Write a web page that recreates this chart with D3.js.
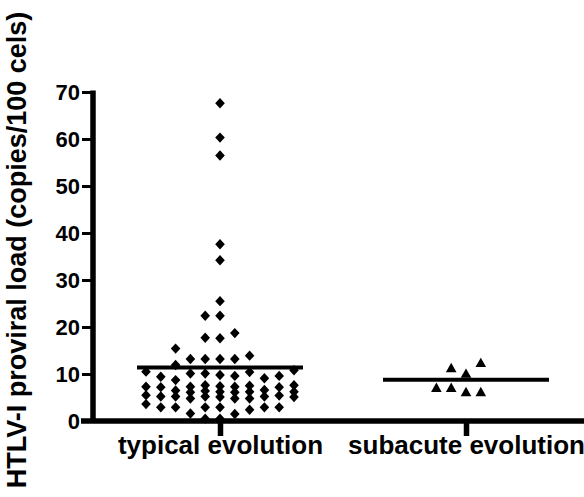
<!DOCTYPE html>
<html>
<head>
<meta charset="utf-8">
<script src="https://cdn.jsdelivr.net/npm/d3@7"></script>
<style>
  html, body { margin: 0; padding: 0; background: #fff; }
  svg { display: block; font-family: "Liberation Sans", Arial, sans-serif; }
</style>
</head>
<body>
<svg id="chart" width="584" height="497"></svg>
<script>
// ---- data ----
const categories = ["typical evolution", "subacute evolution"];
const typicalValues = [
  67.6, 60.3, 56.5, 37.6, 34.2, 25.5, 22.4, 22.4, 18.7, 17.6, 17.7, 15.4, 13.9,
  13.2, 13.2, 13.2, 13.2,
  11.9, 10.8, 10.5, 10.1, 10.4, 10.1, 9.8,
  9.6, 7.2, 6.1, 5.1, 2.9,
  9.4, 7.2, 6.1, 5.1, 2.9,
  8.7, 7.6, 6.5, 5.4, 2.9,
  7.4, 6.2, 5.2, 2.4,
  7.6, 6.4, 5.2, 1.5,
  7.5, 5.5, 3.6, 0.5,
  7.3, 4.8, 0.5,
  7.3, 6.2, 4.8, 1.6,
  7.3, 6.6, 6.2, 4.8, 2.9,
  9.1, 5.2, 2.9,
  9.6, 5.2, 2.9
];
const subacuteValues = [10.0, 6.1, 11.2, 12.3, 7.0, 6.1, 7.0];
const meanValues = [11.4, 8.8];
const yTicks = [0, 10, 20, 30, 40, 50, 60, 70];
const yTitle = "HTLV-I proviral load (copies/100 cels)";

// ---- layout ----
const svg = d3.select("#chart");
const y = d3.scaleLinear().domain([0, 70]).range([421, 92]);
const x = d3.scalePoint().domain(categories).range([220, 466]);
const colStep = 14.8;   // horizontal spacing between scatter columns
const minGap = 11;      // preferred vertical gap inside one column (px)
const maxCol = 5;       // columns allowed on each side of the centre

// column scatter: each point goes to the column nearest the centre where it
// does not overlap; if none is free, the column with the most room is used
function swarm(values, order) {
  const cols = new Map();
  const out = [];
  const seq = values.slice();
  if (order === "asc") seq.sort((a, b) => a - b);
  seq.forEach(v => {
    const py = y(v);
    let best = 0, bestD = -1, chosen = null;
    for (let i = 0; i <= 2 * maxCol; i++) {
      const k = i === 0 ? 0 : (i % 2 ? -Math.ceil(i / 2) : Math.ceil(i / 2));
      const list = cols.get(k) || [];
      const d = list.length ? d3.min(list, q => Math.abs(q - py)) : Infinity;
      if (d >= minGap) { chosen = k; break; }
      if (d > bestD) { bestD = d; best = k; }
    }
    const k = chosen === null ? best : chosen;
    if (!cols.has(k)) cols.set(k, []);
    cols.get(k).push(py);
    out.push({ v, k });
  });
  return out;
}

const axisX = 93;
const font = "'Liberation Sans', Arial, sans-serif";

// y axis
const yAxis = d3.axisLeft(y).tickValues(yTicks).tickSize(11).tickSizeOuter(0).tickPadding(2);
const gy = svg.append("g").attr("transform", `translate(${axisX},0)`).call(yAxis);
gy.select(".domain").attr("stroke", "#000").attr("stroke-width", 5.5)
  .attr("d", `M0,${y(70) - 1.5}V${y(0)}`);
gy.selectAll(".tick line").attr("stroke", "#000").attr("stroke-width", 3);
gy.selectAll(".tick text").attr("fill", "#000").attr("font-size", 22).attr("font-weight", "bold")
  .attr("font-family", font).attr("dy", "0.36em");

// x axis
const xAxis = d3.axisBottom(x).tickSize(15).tickSizeOuter(0);
const gx = svg.append("g").attr("transform", `translate(0,${y(0)})`).call(xAxis);
gx.select(".domain").remove();
gx.selectAll(".tick line").attr("stroke", "#000").attr("stroke-width", 5.5);
gx.selectAll(".tick text").attr("fill", "#000").attr("font-size", 26).attr("font-weight", "bold")
  .attr("font-family", font).attr("y", 33).attr("dy", 0);
svg.append("line").attr("x1", axisX - 12).attr("x2", 584).attr("y1", y(0)).attr("y2", y(0))
  .attr("stroke", "#000").attr("stroke-width", 5.5);

// y title
svg.append("text")
  .attr("transform", `translate(26,250) rotate(-90)`)
  .attr("text-anchor", "middle")
  .attr("font-size", 27).attr("font-weight", "bold").attr("fill", "#000")
  .attr("font-family", font)
  .text(yTitle);

// markers
const diamond = (cx, cy) => `M${cx},${cy - 5.2}L${cx + 4.8},${cy}L${cx},${cy + 5.2}L${cx - 4.8},${cy}Z`;
const triangle = (cx, cy) => `M${cx},${cy - 5.5}L${cx + 5.3},${cy + 3.8}L${cx - 5.3},${cy + 3.8}Z`;

const typ = swarm(typicalValues, "asc");
svg.append("g").selectAll("path").data(typ).join("path")
  .attr("d", d => diamond(x(categories[0]) + d.k * colStep, y(d.v)))
  .attr("fill", "#000");

const sub = swarm(subacuteValues, "data");
svg.append("g").selectAll("path").data(sub).join("path")
  .attr("d", d => triangle(x(categories[1]) + d.k * colStep, y(d.v)))
  .attr("fill", "#000");

// mean lines
svg.append("g").selectAll("line").data(meanValues).join("line")
  .attr("x1", (d, i) => x(categories[i]) - 83)
  .attr("x2", (d, i) => x(categories[i]) + 83)
  .attr("y1", d => y(d)).attr("y2", d => y(d))
  .attr("stroke", "#000").attr("stroke-width", 4);
</script>
</body>
</html>
